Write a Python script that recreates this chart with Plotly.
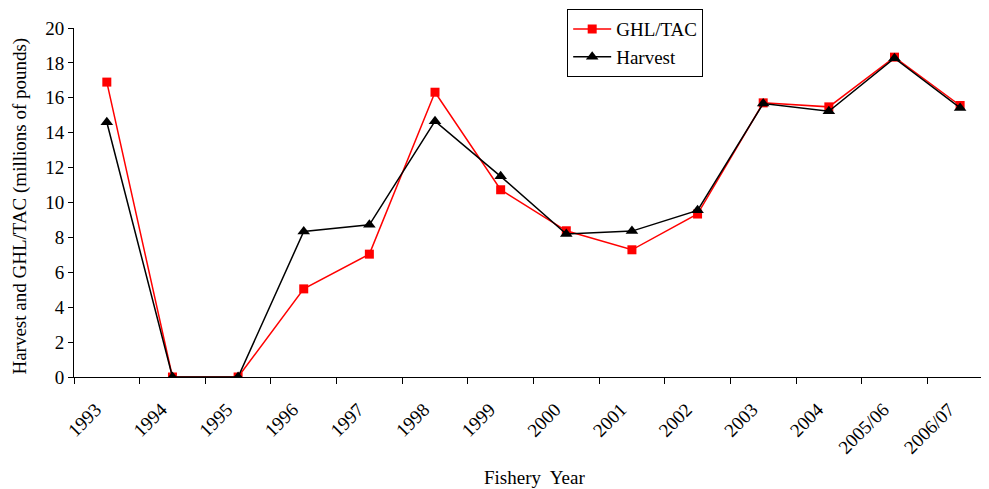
import plotly.graph_objects as go

years = ["1993", "1994", "1995", "1996", "1997", "1998", "1999", "2000",
         "2001", "2002", "2003", "2004", "2005/06", "2006/07"]
ghl_tac = [16.9, 0.0, 0.0, 5.05, 7.04, 16.32, 10.73, 8.38,
           7.29, 9.34, 15.71, 15.48, 18.33, 15.56]
harvest = [14.6, 0.0, 0.0, 8.34, 8.72, 14.66, 11.5, 8.19,
           8.36, 9.55, 15.67, 15.23, 18.27, 15.42]

serif = "Liberation Serif, Times New Roman, serif"

fig = go.Figure()
fig.add_trace(go.Scatter(
    x=years, y=ghl_tac, mode="lines+markers", name="GHL/TAC",
    line=dict(color="#ff0000", width=1.5),
    marker=dict(symbol="square", size=9, color="#ff0000"),
))
fig.add_trace(go.Scatter(
    x=years, y=harvest, mode="lines+markers", name="Harvest",
    line=dict(color="black", width=1.5),
    marker=dict(symbol="triangle-up", size=11, color="black"),
))

# page body has an 8px margin, so the figure is a bit smaller than the window
fig.update_layout(
    width=981, height=481,
    margin=dict(l=66, r=0, t=20, b=112, autoexpand=False),
    paper_bgcolor="white", plot_bgcolor="white",
    font=dict(family=serif, size=19, color="black"),
    legend=dict(
        x=0.539, y=1.054, xanchor="left", yanchor="top",
        bordercolor="black", borderwidth=1, bgcolor="white",
        font=dict(family=serif, size=19), itemwidth=38,
    ),
    showlegend=True,
)
fig.update_xaxes(
    type="category", range=[-0.5, 13.44], tickson="boundaries",
    ticks="outside", ticklen=6, tickcolor="black", tickwidth=1,
    showline=True, linecolor="black", linewidth=1, showgrid=False,
    tickangle=-45, tickfont=dict(family=serif, size=19), automargin=False,
    ticklabelshift=-11, ticklabelstandoff=13,
)
fig.update_yaxes(
    range=[0, 20], dtick=2, ticks="outside", ticklen=5, tickcolor="black",
    showline=True, linecolor="black", linewidth=1, showgrid=False, zeroline=False,
    tickfont=dict(family=serif, size=19), automargin=False,
)

# axis titles as annotations so they sit where the reference has them
fig.add_annotation(text="Fishery  Year", xref="paper", yref="paper",
                   x=0.503, y=-0.289, xanchor="center", yanchor="middle",
                   showarrow=False, font=dict(family=serif, size=19))
fig.add_annotation(text="Harvest and GHL/TAC (millions of pounds)",
                   xref="paper", yref="paper", x=-0.0595, y=0.49,
                   xanchor="center", yanchor="middle",
                   textangle=-90, showarrow=False,
                   font=dict(family=serif, size=19))

fig.write_html("out.html")
